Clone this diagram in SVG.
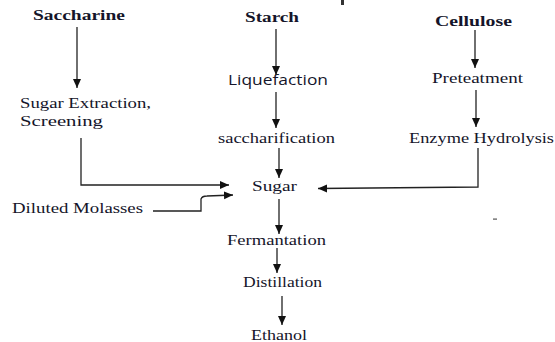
<svg xmlns="http://www.w3.org/2000/svg" width="555" height="342" viewBox="0 0 555 342">
<style>
  .t{font-family:"Liberation Serif","Times New Roman",serif;font-size:15px;fill:#15152a}
  .b{font-weight:bold}
  .s{font-family:"Open Sans","Liberation Sans",sans-serif;font-size:14px;fill:#15152a}
  .ln{fill:none;stroke:#222;stroke-width:1.3}
  .ar{marker-end:url(#ah)}
</style>
<defs>
  <marker id="ah" markerWidth="10" markerHeight="10" refX="9" refY="5" orient="auto" markerUnits="userSpaceOnUse">
    <path d="M0,1 L9,5 L0,9 Z" fill="#111"/>
  </marker>
</defs>
<rect width="555" height="342" fill="#fff"/>
<g id="saccharine"><text class="t b" x="33" y="20" textLength="92" lengthAdjust="spacingAndGlyphs">Saccharine</text></g>
<g id="sugar-extraction">
  <text class="t" x="20" y="108" textLength="131" lengthAdjust="spacingAndGlyphs">Sugar Extraction,</text>
  <text class="t" x="20" y="126" textLength="83" lengthAdjust="spacingAndGlyphs">Screening</text>
</g>
<g id="starch"><text class="t b" x="245" y="22" textLength="54" lengthAdjust="spacingAndGlyphs">Starch</text></g>
<g id="liquefaction"><text class="s" x="228" y="85" textLength="100" lengthAdjust="spacingAndGlyphs">Liquefaction</text></g>
<g id="saccharification"><text class="t" x="218" y="143" textLength="117" lengthAdjust="spacingAndGlyphs">saccharification</text></g>
<g id="cellulose"><text class="t b" x="435" y="26" textLength="77" lengthAdjust="spacingAndGlyphs">Cellulose</text></g>
<g id="preteatment"><text class="t" x="432" y="83" textLength="91" lengthAdjust="spacingAndGlyphs">Preteatment</text></g>
<g id="enzyme-hydrolysis"><text class="t" x="409" y="143" textLength="145" lengthAdjust="spacingAndGlyphs">Enzyme Hydrolysis</text></g>
<g id="sugar"><text class="t" x="252" y="191" textLength="45" lengthAdjust="spacingAndGlyphs">Sugar</text></g>
<g id="diluted-molasses"><text class="t" x="12" y="213" textLength="131" lengthAdjust="spacingAndGlyphs">Diluted Molasses</text></g>
<g id="fermantation"><text class="t" x="227" y="245" textLength="99" lengthAdjust="spacingAndGlyphs">Fermantation</text></g>
<g id="distillation"><text class="t" x="243" y="287" textLength="79" lengthAdjust="spacingAndGlyphs">Distillation</text></g>
<g id="ethanol"><text class="t" x="251" y="340" textLength="56" lengthAdjust="spacingAndGlyphs">Ethanol</text></g>
<g id="connectors">
  <line class="ln ar" x1="77" y1="27" x2="77" y2="88"/>
  <polyline class="ln ar" points="81,138 81,185 229,185"/>
  <line class="ln ar" x1="276" y1="29" x2="276" y2="75"/>
  <line class="ln ar" x1="276" y1="92" x2="276" y2="128"/>
  <line class="ln ar" x1="279" y1="148" x2="279" y2="178"/>
  <line class="ln ar" x1="279" y1="199" x2="279" y2="234"/>
  <line class="ln ar" x1="277" y1="248" x2="277" y2="273"/>
  <line class="ln ar" x1="282" y1="296" x2="282" y2="325"/>
  <line class="ln ar" x1="475" y1="30" x2="475" y2="68"/>
  <line class="ln ar" x1="476" y1="90" x2="476" y2="127"/>
  <polyline class="ln ar" points="478,148 478,187 318,188.5"/>
  <path class="ln ar" d="M153,211 L201,211 L201,199 Q202,196 207,196 L233,195"/>
</g>
<rect x="341" y="0" width="3" height="5" fill="#333"/>
<rect x="493" y="218.5" width="4" height="1.2" fill="#555"/>
</svg>
